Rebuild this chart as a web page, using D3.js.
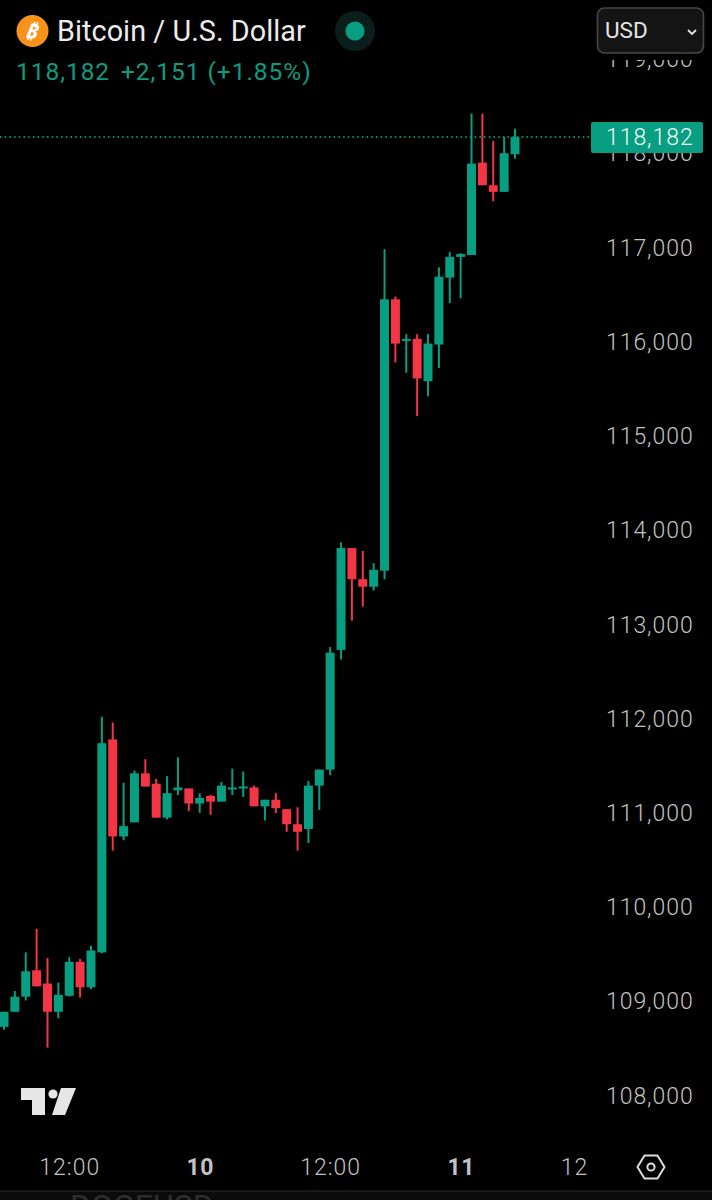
<!DOCTYPE html>
<html><head><meta charset="utf-8">
<script src="https://d3js.org/d3.v7.min.js"></script>
<style>html,body{margin:0;padding:0;background:#000}svg{display:block}
text{font-family:Roboto,"Noto Sans",sans-serif}</style></head>
<body><div id="chart"></div>
<script>
const opens=[108740,108900,109060,109340,109200,108900,109070,109430,109160,109530,111790,110760,110910,111430,111320,110960,111250,111270,111110,111190,111130,111270,111270,111280,111080,111150,111050,110890,110840,111300,111470,112740,113820,113490,113410,113580,116460,116020,116040,115590,115980,116690,116910,116930,117910,117670,117600,118000];
const highs=[108900,109120,109530,109780,109470,109210,109480,109460,109600,112030,111970,111330,111460,111580,111370,111400,111600,111270,111220,111200,111340,111480,111450,111300,111150,111220,111050,111070,111350,111470,112770,113880,113820,113790,113660,116990,116490,116090,116090,116090,116800,116960,116950,118430,118430,118140,118180,118270];
const lows=[108710,108900,109020,109170,108520,108830,109060,109050,109140,109520,110610,110720,110910,111290,110960,110940,111200,111030,111010,110990,111130,111200,111180,111080,110930,111010,110810,110610,110690,111040,111410,112640,113050,113200,113370,113490,115790,115680,115220,115430,115730,116420,116470,116930,117670,117500,117600,117950];
const closes=[108900,109060,109330,109170,108900,109080,109430,109160,109550,111750,110760,110870,111430,111290,110960,111220,111280,111110,111170,111130,111300,111280,111290,111080,111150,111060,110890,110810,111300,111470,112710,113820,113490,113410,113590,116460,115990,116040,115620,115990,116700,116910,116940,117900,117670,117600,118010,118180];
const priceTicks=[119000,118000,117000,116000,115000,114000,113000,112000,111000,110000,109000,108000];
const timeTickIndex=[6,18,30,42,54];
const timeTickLabels=["12:00","10","12:00","11","12"];
const timeTickBold=[false,true,false,true,false];
const lastPrice=118182;
const headerTitle="Bitcoin / U.S. Dollar";
const headerQuote=["118,182","+2,151 (+1.85%)"];

const UP="#089e82",DOWN="#f23645",TXT="#c2c2c2";
const W=712,H=1200;
const x=d3.scaleLinear().domain([0,47]).range([4,515]);
const y=d3.scaleLinear().domain([108000,lastPrice]).range([1096.6,137]);
const svg=d3.select("#chart").append("svg").attr("width",W).attr("height",H).attr("viewBox",`0 0 ${W} ${H}`);
svg.append("rect").attr("width",W).attr("height",H).attr("fill","#000");
const defs=svg.append("defs");
defs.append("clipPath").attr("id","axisClip").append("rect").attr("x",590).attr("y",60).attr("width",122).attr("height",1060);
defs.append("clipPath").attr("id","plotClip").append("rect").attr("x",0).attr("y",60).attr("width",590).attr("height",1060);
defs.append("clipPath").attr("id","bottomClip").append("rect").attr("x",0).attr("y",1191).attr("width",W).attr("height",9);

// price axis
const fmt=d3.format(",");
const yAxis=d3.axisRight(y).tickValues(priceTicks).tickFormat(fmt).tickSize(0).tickPadding(0);
const ya=svg.append("g").attr("clip-path","url(#axisClip)").append("g").attr("transform","translate(606,-1.2)").call(yAxis);
ya.select(".domain").remove();
ya.selectAll("text").attr("fill",TXT).attr("font-size",23).attr("font-weight",300).attr("letter-spacing",0.95).attr("dy","0.34em");

// last-price line + label
svg.append("line").attr("x1",0).attr("x2",590).attr("y1",y(lastPrice)).attr("y2",y(lastPrice))
  .attr("stroke","#12b896").attr("stroke-width",1.5).attr("stroke-dasharray","1.5 3.2");
svg.append("rect").attr("x",591).attr("y",y(lastPrice)-15).attr("width",112).attr("height",31).attr("rx",2).attr("fill",UP);
svg.append("text").attr("x",606).attr("y",y(lastPrice)+8).attr("fill","#f0f8f6").attr("font-size",23).attr("font-weight",300).attr("letter-spacing",0.95).text(fmt(lastPrice));

// candles
const idx=d3.range(opens.length);
const col=i=>closes[i]>=opens[i]?UP:DOWN;
const plot=svg.append("g").attr("clip-path","url(#plotClip)");
plot.selectAll("line.wick").data(idx).join("line").attr("class","wick")
  .attr("x1",i=>x(i)).attr("x2",i=>x(i)).attr("y1",i=>y(highs[i])).attr("y2",i=>y(lows[i]))
  .attr("stroke",col).attr("stroke-width",2);
plot.selectAll("rect.body").data(idx).join("rect").attr("class","body")
  .attr("x",i=>x(i)-4.5).attr("width",9)
  .attr("y",i=>y(Math.max(opens[i],closes[i])))
  .attr("height",i=>Math.max(2,Math.abs(y(opens[i])-y(closes[i]))))
  .attr("fill",col);

// time axis
const xAxis=d3.axisBottom(x).tickValues(timeTickIndex).tickFormat((d,i)=>timeTickLabels[i]).tickSize(0).tickPadding(0);
const xa=svg.append("g").attr("transform","translate(0,1175)").call(xAxis);
xa.select(".domain").remove();
xa.selectAll("text").attr("y",0).attr("dy",0).attr("fill",TXT).attr("font-size",23)
  .attr("font-weight",(d,i)=>timeTickBold[i]?700:300).attr("letter-spacing",(d,i)=>timeTickBold[i]?0.4:1)
  .attr("dx",(d,i)=>i===4?-17:0);

// settings hexagon
svg.append("path").attr("transform","translate(651,1167)")
  .attr("d","M-13.5 0L-6.5 -11.5H6.5L13.5 0L6.5 11.5H-6.5Z").attr("fill","none").attr("stroke","#dcdcdc").attr("stroke-width",2).attr("stroke-linejoin","round");
svg.append("circle").attr("cx",651).attr("cy",1167).attr("r",3.6).attr("fill","none").attr("stroke","#dcdcdc").attr("stroke-width",2);

// TradingView logo
const tv=svg.append("g").attr("fill","#e6e6e6");
tv.append("path").attr("d","M21 1088H45V1115H32V1100H21Z");
tv.append("circle").attr("cx",53).attr("cy",1094).attr("r",4.6);
tv.append("path").attr("d","M61 1088H76L65 1115H52Z");

// header
svg.append("circle").attr("cx",32.5).attr("cy",31).attr("r",16).attr("fill","#f7931a");
svg.append("text").attr("x",32.5).attr("y",38.5).attr("text-anchor","middle").attr("fill","#fff").attr("font-size",21).attr("font-weight",700).attr("font-style","italic").attr("transform","rotate(10 32.5 31)").text("₿");
svg.append("text").attr("x",57).attr("y",41).attr("fill","#ececec").attr("font-size",28.8).attr("font-weight",400).attr("letter-spacing",0.05).text(headerTitle);
svg.append("circle").attr("cx",355).attr("cy",31).attr("r",20).attr("fill","#0a1f1c");
svg.append("circle").attr("cx",355).attr("cy",31).attr("r",9.5).attr("fill",UP);
svg.append("text").attr("x",16).attr("y",80).attr("fill","#0d9c80").attr("font-size",24.5).attr("font-weight",400).attr("letter-spacing",0.95).text(headerQuote[0]);
svg.append("text").attr("x",121).attr("y",80).attr("fill","#0d9c80").attr("font-size",24.5).attr("font-weight",400).attr("letter-spacing",0.95).text(headerQuote[1]);

// USD button
svg.append("rect").attr("x",597.5).attr("y",8).attr("width",106).attr("height",45).attr("rx",7).attr("fill","#141414").attr("stroke","#474747").attr("stroke-width",1.6);
svg.append("text").attr("x",605).attr("y",38).attr("fill","#e4e4e4").attr("font-size",22.5).attr("font-weight",400).text("USD");
svg.append("path").attr("d","M688 30L692 34L696 30").attr("fill","none").attr("stroke","#e4e4e4").attr("stroke-width",1.8);

// bottom edge
svg.append("rect").attr("x",0).attr("y",1191).attr("width",W).attr("height",9).attr("fill","#0b0b0b");
svg.append("line").attr("x1",0).attr("x2",W).attr("y1",1191).attr("y2",1191).attr("stroke","#2e2e2e").attr("stroke-width",1.2);
svg.append("text").attr("clip-path","url(#bottomClip)").attr("x",70).attr("y",1217).attr("fill","#2e2e2e").attr("font-size",32).text("DOGEUSD");
</script></body></html>
